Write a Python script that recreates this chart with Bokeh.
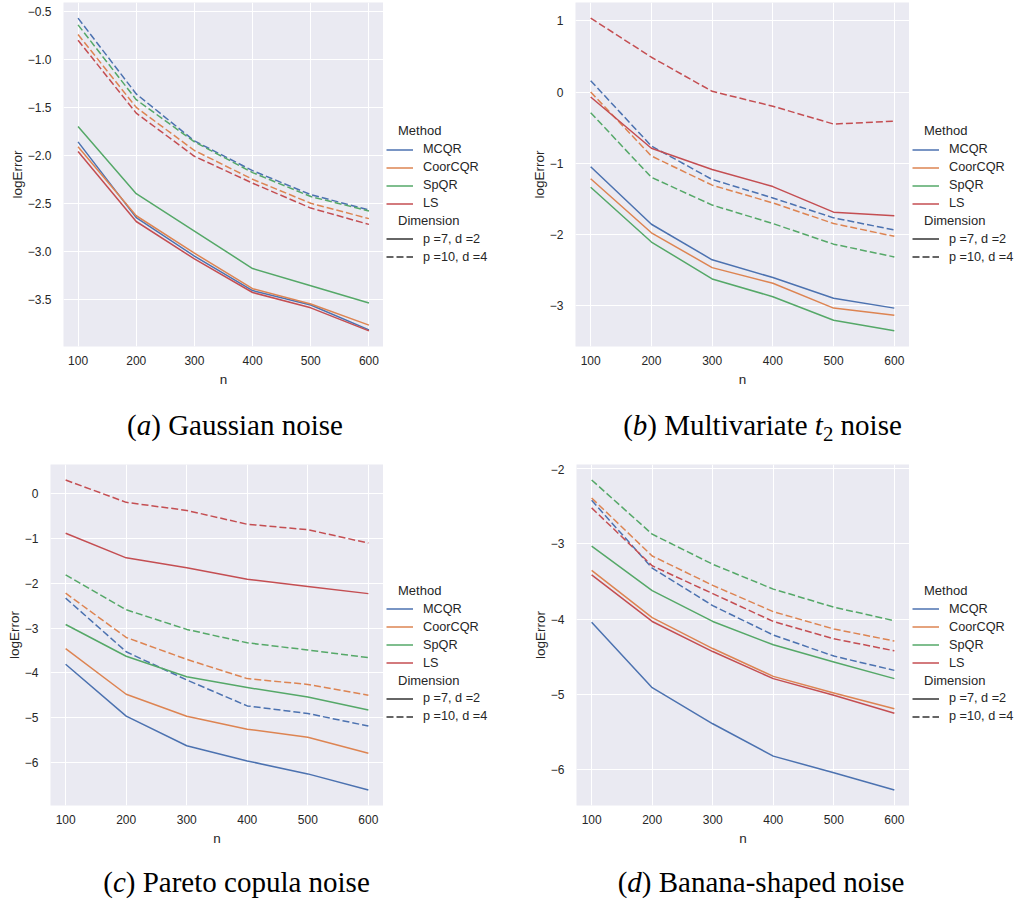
import numpy as np
from bokeh.plotting import figure
from bokeh.models import Range1d, FixedTicker, CustomJSTickFormatter, Legend, LegendItem, Div
from bokeh.layouts import column, row
from bokeh.embed import file_html
from bokeh.resources import INLINE

# ---------------- data ----------------
n_values = [100, 200, 300, 400, 500, 600]
methods = ["MCQR", "CoorCQR", "SpQR", "LS"]
dimensions = ["p =7, d =2", "p =10, d =4"]

# (a) Gaussian noise
mcqr_a_p7 = [-1.86, -2.65, -3.05, -3.41, -3.56, -3.82]
coor_a_p7 = [-1.91, -2.63, -3.02, -3.39, -3.55, -3.77]
spqr_a_p7 = [-1.70, -2.40, -2.79, -3.18, -3.36, -3.54]
ls_a_p7 = [-1.96, -2.69, -3.08, -3.43, -3.59, -3.83]
mcqr_a_p10 = [-0.57, -1.36, -1.85, -2.16, -2.41, -2.57]
coor_a_p10 = [-0.74, -1.50, -1.95, -2.25, -2.50, -2.66]
spqr_a_p10 = [-0.64, -1.42, -1.86, -2.18, -2.43, -2.58]
ls_a_p10 = [-0.80, -1.56, -2.01, -2.29, -2.55, -2.72]

# (b) Multivariate t2 noise
mcqr_b_p7 = [-1.05, -1.86, -2.36, -2.61, -2.90, -3.04]
coor_b_p7 = [-1.22, -1.98, -2.47, -2.69, -3.04, -3.14]
spqr_b_p7 = [-1.34, -2.11, -2.63, -2.88, -3.21, -3.36]
ls_b_p7 = [-0.07, -0.79, -1.09, -1.33, -1.69, -1.74]
mcqr_b_p10 = [0.16, -0.76, -1.23, -1.49, -1.77, -1.94]
coor_b_p10 = [0.00, -0.90, -1.31, -1.56, -1.85, -2.03]
spqr_b_p10 = [-0.29, -1.20, -1.59, -1.85, -2.14, -2.32]
ls_b_p10 = [1.04, 0.49, 0.01, -0.20, -0.45, -0.41]

# (c) Pareto copula noise
mcqr_c_p7 = [-3.81, -4.97, -5.63, -5.97, -6.26, -6.62]
coor_c_p7 = [-3.46, -4.48, -4.97, -5.26, -5.44, -5.80]
spqr_c_p7 = [-2.92, -3.63, -4.09, -4.33, -4.54, -4.83]
ls_c_p7 = [-0.88, -1.43, -1.65, -1.91, -2.07, -2.23]
mcqr_c_p10 = [-2.33, -3.53, -4.16, -4.74, -4.91, -5.19]
coor_c_p10 = [-2.22, -3.21, -3.70, -4.13, -4.26, -4.50]
spqr_c_p10 = [-1.81, -2.59, -3.03, -3.33, -3.49, -3.66]
ls_c_p10 = [0.31, -0.19, -0.37, -0.68, -0.80, -1.10]

# (d) Banana-shaped noise
mcqr_d_p7 = [-4.04, -4.91, -5.39, -5.82, -6.04, -6.27]
coor_d_p7 = [-3.35, -3.98, -4.39, -4.76, -4.98, -5.19]
spqr_d_p7 = [-3.03, -3.62, -4.03, -4.34, -4.57, -4.79]
ls_d_p7 = [-3.41, -4.03, -4.43, -4.79, -5.01, -5.25]
mcqr_d_p10 = [-2.42, -3.32, -3.82, -4.21, -4.49, -4.68]
coor_d_p10 = [-2.39, -3.16, -3.55, -3.90, -4.13, -4.29]
spqr_d_p10 = [-2.15, -2.87, -3.27, -3.60, -3.84, -4.02]
ls_d_p10 = [-2.52, -3.29, -3.66, -4.03, -4.26, -4.42]

x_ticks = [100, 200, 300, 400, 500, 600]
y_ticks_a = [-3.5, -3.0, -2.5, -2.0, -1.5, -1.0, -0.5]
y_ticks_b = [-3, -2, -1, 0, 1]
y_ticks_c = [-6, -5, -4, -3, -2, -1, 0]
y_ticks_d = [-6, -5, -4, -3, -2]

captions = [
    "(<i>a</i>) Gaussian noise",
    "(<i>b</i>) Multivariate <i>t</i><span style=\"font-size:0.72em;position:relative;top:0.3em\">2</span> noise",
    "(<i>c</i>) Pareto copula noise",
    "(<i>d</i>) Banana-shaped noise",
]

# ---------------- styling ----------------
COLORS = ["#4c72b0", "#dd8452", "#55a868", "#c44e52"]
BG = "#eaeaf2"
TXT = "#262626"
FONT = "Liberation Sans"
DASH = "7 3"
NAN2 = np.array([np.nan, np.nan])


def fmt(decimals):
    return CustomJSTickFormatter(code="return tick.toFixed(%d).replace('-', '\\u2212');" % decimals)


def add_legend(p, items, x, center_first, frame_bottom, h, spacing, glyph_w, standoff, size):
    n = len(items)
    lh = n * h + (n - 1) * spacing
    top = center_first - h / 2.0
    vy = frame_bottom - top - lh
    leg = Legend(items=items, location=(x, vy), orientation="vertical",
                 padding=0, margin=0, spacing=spacing,
                 glyph_height=h, glyph_width=glyph_w, label_height=h,
                 label_width=5, label_standoff=standoff,
                 label_text_font=FONT, label_text_font_size=size,
                 label_text_color=TXT, border_line_alpha=0,
                 background_fill_alpha=0)
    p.add_layout(leg, "center")


def make_legend_fig(width, top, frame_h, bb, ys):
    q = figure(width=width, height=top + frame_h + bb, title=None, toolbar_location=None,
               tools="", output_backend="svg", x_range=Range1d(0, 1), y_range=Range1d(0, 1),
               x_axis_location=None, y_axis_location=None,
               min_border_left=0, min_border_right=0, min_border_top=top,
               min_border_bottom=bb,
               background_fill_color="white", border_fill_color="white",
               outline_line_color=None)
    q.grid.visible = False
    dummy = q.line(NAN2, NAN2, line_alpha=0)
    meth = [q.line(NAN2, NAN2, line_color=COLORS[i], line_width=1.5) for i in range(4)]
    dim_solid = q.line(NAN2, NAN2, line_color="#333333", line_width=1.5)
    dim_dash = q.line(NAN2, NAN2, line_color="#333333", line_width=1.5, line_dash=DASH)
    x_items = 3
    x_title = 14
    fb = top + frame_h
    y_method, y_items, y_dim, y_dims = ys
    add_legend(q, [LegendItem(label="Method", renderers=[dummy])], x_title, y_method,
               fb, 17, 0, 1, 0, "13px")
    add_legend(q, [LegendItem(label=m, renderers=[r]) for m, r in zip(methods, meth)],
               x_items, y_items, fb, 17, 1, 27, 10, "12.7px")
    add_legend(q, [LegendItem(label="Dimension", renderers=[dummy])], x_title, y_dim,
               fb, 17, 0, 1, 0, "13px")
    add_legend(q, [LegendItem(label=dimensions[0], renderers=[dim_solid]),
                   LegendItem(label=dimensions[1], renderers=[dim_dash])],
               x_items, y_dims, fb, 17, 1, 27, 10, "12.7px")
    return q


def make_panel(p7s, p10s, yticks, ydec, width, bl, frame_w, top, frame_h, bb, ys):
    allv = [v for s in p7s + p10s for v in s]
    lo, hi = min(allv), max(allv)
    pad = 0.05 * (hi - lo)
    xpad = 0.05 * (max(n_values) - min(n_values))
    main_w = bl + frame_w
    fig_h = top + frame_h + bb
    p = figure(width=main_w, height=fig_h, title=None, toolbar_location=None,
               tools="", output_backend="svg",
               x_range=Range1d(min(n_values) - xpad, max(n_values) + xpad),
               y_range=Range1d(lo - pad, hi + pad),
               min_border_left=bl, min_border_right=0, min_border_top=top,
               min_border_bottom=bb,
               background_fill_color=BG, border_fill_color="white",
               outline_line_color=None)
    p.xaxis.ticker = FixedTicker(ticks=x_ticks)
    p.yaxis.ticker = FixedTicker(ticks=yticks)
    p.xaxis.formatter = fmt(0)
    p.yaxis.formatter = fmt(ydec)
    for ax in (p.xaxis[0], p.yaxis[0]):
        ax.axis_line_color = None
        ax.major_tick_line_color = None
        ax.minor_tick_line_color = None
        ax.major_tick_out = 0
        ax.major_tick_in = 0
        ax.minor_tick_out = 0
        ax.minor_tick_in = 0
        ax.major_label_text_font = FONT
        ax.major_label_text_font_size = "12px"
        ax.major_label_text_color = TXT
        ax.axis_label_text_font = FONT
        ax.axis_label_text_font_size = "13.5px"
        ax.axis_label_text_font_style = "normal"
        ax.axis_label_text_color = TXT
    p.xaxis.axis_label = "n"
    p.yaxis.axis_label = "logError"
    p.xaxis.major_label_standoff = 9
    p.xaxis.axis_label_standoff = 4
    p.yaxis.major_label_standoff = 12
    p.yaxis.axis_label_standoff = 0
    p.grid.grid_line_color = "white"
    p.grid.grid_line_width = 1

    for i in range(4):
        p.line(n_values, p7s[i], line_color=COLORS[i], line_width=1.5, line_join="round")
        p.line(n_values, p10s[i], line_color=COLORS[i], line_width=1.5,
               line_dash=DASH, line_join="round")

    q = make_legend_fig(width - main_w, top, frame_h, bb, ys)
    return row(p, q)


def caption(html, width, height, inner_w, pad_top):
    return Div(text=('<div style="width:%dpx;text-align:center;font-family:\'Liberation Serif\';'
                     'font-size:29px;line-height:29px;padding-top:%dpx;color:#000;white-space:nowrap">%s</div>')
               % (inner_w, pad_top, html), width=width, height=height, margin=0)


ys_row1 = (130.7, 149.3, 220.0, 238.5)
ys_row2 = (126.7, 144.7, 216.0, 234.2)

pa = make_panel([mcqr_a_p7, coor_a_p7, spqr_a_p7, ls_a_p7],
                [mcqr_a_p10, coor_a_p10, spqr_a_p10, ls_a_p10],
                y_ticks_a, 1, 510, 63, 320, 2, 344, 50, ys_row1)
pb = make_panel([mcqr_b_p7, coor_b_p7, spqr_b_p7, ls_b_p7],
                [mcqr_b_p10, coor_b_p10, spqr_b_p10, ls_b_p10],
                y_ticks_b, 0, 506, 65, 334, 2, 344, 50, ys_row1)
pc = make_panel([mcqr_c_p7, coor_c_p7, spqr_c_p7, ls_c_p7],
                [mcqr_c_p10, coor_c_p10, spqr_c_p10, ls_c_p10],
                y_ticks_c, 0, 510, 50, 333, 0, 341, 47, ys_row2)
pd = make_panel([mcqr_d_p7, coor_d_p7, spqr_d_p7, ls_d_p7],
                [mcqr_d_p10, coor_d_p10, spqr_d_p10, ls_d_p10],
                y_ticks_d, 0, 506, 66, 333, 0, 341, 47, ys_row2)

ca = caption(captions[0], 510, 68, 470, 15)
cb = caption(captions[1], 506, 68, 505, 15)
cc = caption(captions[2], 510, 54, 473, 16)
cd = caption(captions[3], 506, 54, 502, 16)

layout = column(row(pa, pb), row(ca, cb), row(pc, pd), row(cc, cd))

open("out.html", "w").write(file_html(layout, INLINE))
